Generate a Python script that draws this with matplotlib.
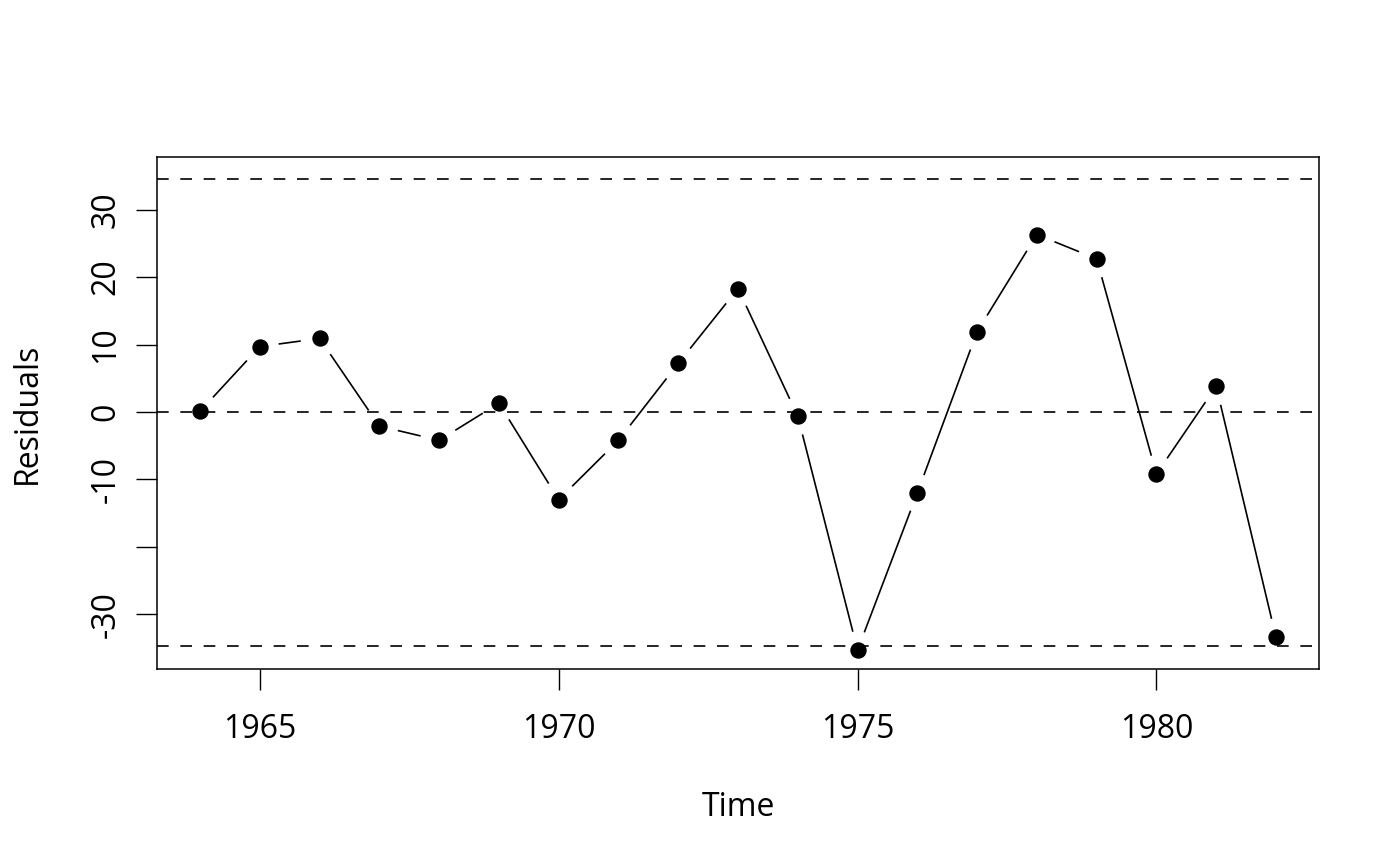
import matplotlib
matplotlib.use("Agg")
import matplotlib.pyplot as plt
import numpy as np

plt.rcParams['font.family'] = ['Open Sans', 'DejaVu Sans']

years = [1964, 1965, 1966, 1967, 1968, 1969, 1970, 1971, 1972, 1973,
         1974, 1975, 1976, 1977, 1978, 1979, 1980, 1981, 1982]
residuals = [0.1, 9.7, 10.9, -2.1, -4.2, 1.3, -13.0, -4.2, 7.2, 18.3,
             -0.6, -35.3, -12.0, 11.9, 26.3, 22.7, -9.2, 3.8, -33.4]
ref_lines = [34.5, 0.0, -34.7]
xticks = [1965, 1970, 1975, 1980]
yticks = [-30, -20, -10, 0, 10, 20, 30]
ytick_labels = ['-30', '', '-10', '0', '10', '20', '30']

fig = plt.figure(figsize=(14, 8.66), dpi=100)
ax = fig.add_axes([157/1400, 1-669/866, (1319-157)/1400, (669-157)/866])
ax.set_xlim(1963.28, 1982.72)
ax.set_ylim(-38.1, 37.8)

for h in ref_lines:
    ax.axhline(h, color='black', lw=1.2, dashes=(7, 7))

# R type="b": segments with gaps around points
fig.canvas.draw()
trans = ax.transData
pts = trans.transform(np.column_stack([years, residuals]))
gap = 19.0
inv = trans.inverted()
for i in range(len(pts) - 1):
    p0, p1 = pts[i], pts[i + 1]
    d = p1 - p0
    L = np.hypot(*d)
    if L <= 2 * gap:
        continue
    u = d / L
    a = inv.transform(p0 + u * gap)
    b = inv.transform(p1 - u * gap)
    ax.plot([a[0], b[0]], [a[1], b[1]], color='black', lw=1.2, solid_capstyle='butt')

ax.plot(years, residuals, 'o', color='black', markersize=10.8, linestyle='none')

ax.set_xticks(xticks)
ax.set_xticklabels([str(x) for x in xticks])
ax.set_yticks(yticks)
ax.set_yticklabels(ytick_labels, rotation=90, va='center')
ax.tick_params(axis='both', length=15, width=1.0, labelsize=23, direction='out')
ax.tick_params(axis='x', pad=17)
ax.tick_params(axis='y', pad=10)
for s in ax.spines.values():
    s.set_linewidth(1.1)

ax.set_xlabel('Time', fontsize=23, labelpad=32)
ax.set_ylabel('Residuals', fontsize=23, labelpad=33)

fig.savefig('out.png', dpi=100)
